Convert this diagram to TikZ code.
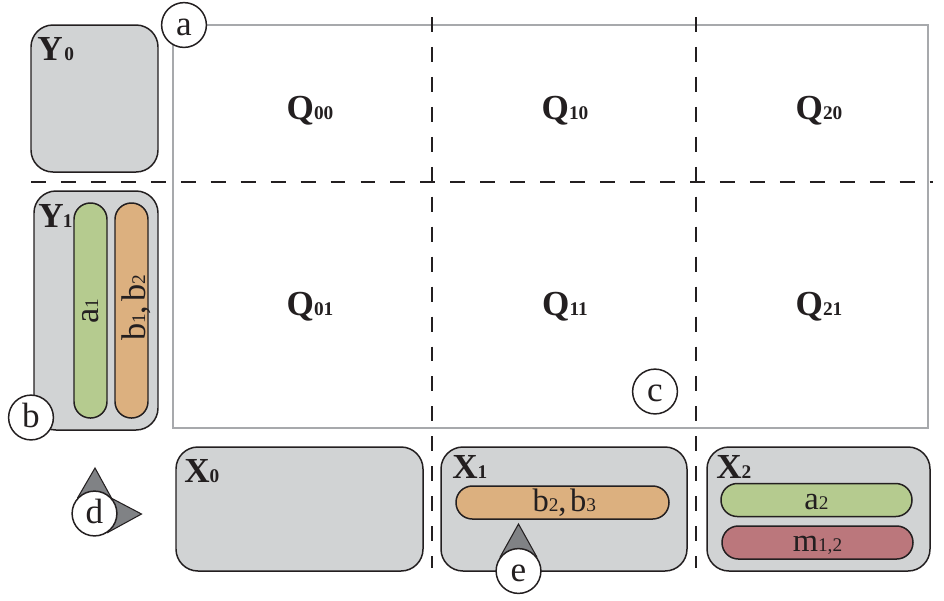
\documentclass[tikz,border=0pt]{standalone}
\usepackage{fontspec}
\setmainfont{Liberation Serif}
\usetikzlibrary{positioning}
\definecolor{boxgray}{HTML}{D1D3D4}
\definecolor{inkdark}{HTML}{231F20}
\definecolor{gridgray}{HTML}{A7A9AC}
\definecolor{tipgray}{HTML}{808285}
\definecolor{pillgreen}{HTML}{B5CB8F}
\definecolor{pillorange}{HTML}{DCB07F}
\definecolor{pillred}{HTML}{BB777C}
\pgfdeclarelayer{front}
\pgfsetlayers{main,front}
\tikzset{
  binbox/.style={draw=inkdark, fill=boxgray, line width=0.85pt, rounded corners=12.5pt},
  pill/.style={draw=inkdark, line width=0.85pt, rounded corners=9.3pt, inner sep=0pt, outer sep=0pt, text=inkdark, text height=10.6pt, text depth=0pt, font=\fontsize{18.5}{20}\selectfont},
  pilltext/.style={inner sep=0pt, text=inkdark, rotate=90, anchor=base, font=\fontsize{19.5}{20}\selectfont},
  badge/.style={draw=inkdark, fill=white, circle, line width=0.85pt, minimum size=25.5pt, inner sep=0pt, text=inkdark, text height=11.8pt, text depth=0pt, font=\fontsize{20}{20}\selectfont},
  pointer/.style={draw=inkdark, fill=tipgray, line width=0.6pt},
  shelf/.style={draw=inkdark, line width=1.1pt, dash pattern=on 8.5pt off 8.55pt},
  binlabel/.style={text=inkdark, anchor=base west, inner sep=0pt, font=\fontsize{20}{20}\selectfont\bfseries},
  cell/.style={text=inkdark, anchor=base, inner sep=0pt, font=\fontsize{20}{20}\selectfont\bfseries},
}
\newcommand{\sbs}[1]{{\fontsize{11}{12}\selectfont #1}}
\begin{document}
\begin{tikzpicture}[x=0.02cm,y=-0.02cm]
\useasboundingbox (0,0) rectangle (944,600);
% plot area
\node[draw=gridgray, line width=1.1pt, minimum width=754.7*0.02cm, minimum height=403*0.02cm, inner sep=0pt, outer sep=0pt, anchor=north west] (plot) at (173.3,25) {};
\node[cell] (Q00) at (310,119) {Q\sbs{00}};
\node[cell] (Q10) at (565,119) {Q\sbs{10}};
\node[cell] (Q20) at (819,119) {Q\sbs{20}};
\node[cell] (Q01) at (310,315) {Q\sbs{01}};
\node[cell] (Q11) at (565,315) {Q\sbs{11}};
\node[cell] (Q21) at (819,315) {Q\sbs{21}};
% bins along the left
\draw[binbox] (31,25) rectangle (158,172);
\draw[binbox] (34,191) rectangle (158,430);
\node[pill, fill=pillgreen, minimum width=33*0.02cm, minimum height=215*0.02cm] (a1) at (90.5,310.5) {};
\node[pilltext] (a1text) at (98,311) {a\sbs{1}};
\node[pill, fill=pillorange, minimum width=33*0.02cm, minimum height=215*0.02cm] (b12) at (131.5,310.5) {};
\node[pilltext] (b12text) at (145,308) {b\sbs{1},\kern2pt b\sbs{2}};
\node[binlabel] (Y0) at (37,60) {Y\sbs{\kern1pt 0}};
\node[binlabel] (Y1) at (38,227) {Y\sbs{\kern-0.5pt 1}};
% bins along the bottom
\draw[binbox] (176,447) rectangle (423,571);
\node[binlabel] (X0) at (184,482) {X\sbs{0}};
\draw[binbox] (441,447) rectangle (687,571);
\node[binlabel] (X1) at (452,478) {X\sbs{1}};
\draw[binbox] (707,447) rectangle (930,571);
\node[binlabel] (X2) at (716,478) {X\sbs{2}};
\node[pill, fill=pillorange, minimum width=213*0.02cm, minimum height=33*0.02cm] (b23) at (562.5,502.5) {\kern2pt b\sbs{2},\kern2pt b\sbs{3}};
\node[pill, fill=pillgreen, minimum width=191*0.02cm, minimum height=33*0.02cm] (a2) at (816.5,500) {a\sbs{2}};
\node[pill, fill=pillred, minimum width=191*0.02cm, minimum height=33*0.02cm] (m12) at (817.5,542.5) {m\sbs{1,2}};
% shelf lines
\draw[shelf] (31,181.8) -- (933,181.8);
\draw[shelf] (432,17) -- (432,568);
\draw[shelf] (696,17) -- (696,568);
% badges go in front of the pointers
\begin{pgfonlayer}{front}
\node[badge] (a) at (184,25) {a};
\node[badge] (b) at (31,417.5) {b};
\node[badge] (c) at (655,391.5) {c};
\node[badge] (d) at (94.5,513.5) {d};
\node[badge] (e) at (518.5,571) {e};
\end{pgfonlayer}
\coordinate (dup) at (95,468);
\coordinate (dright) at (141.5,514);
\coordinate (eup) at (518.5,524);
\draw[pointer] (d.136) -- (dup) -- (d.44) -- cycle;
\draw[pointer] (d.40) -- (dright) -- (d.-55) -- cycle;
\draw[pointer] (e.142) -- (eup) -- (e.38) -- cycle;
\end{tikzpicture}
\end{document}
